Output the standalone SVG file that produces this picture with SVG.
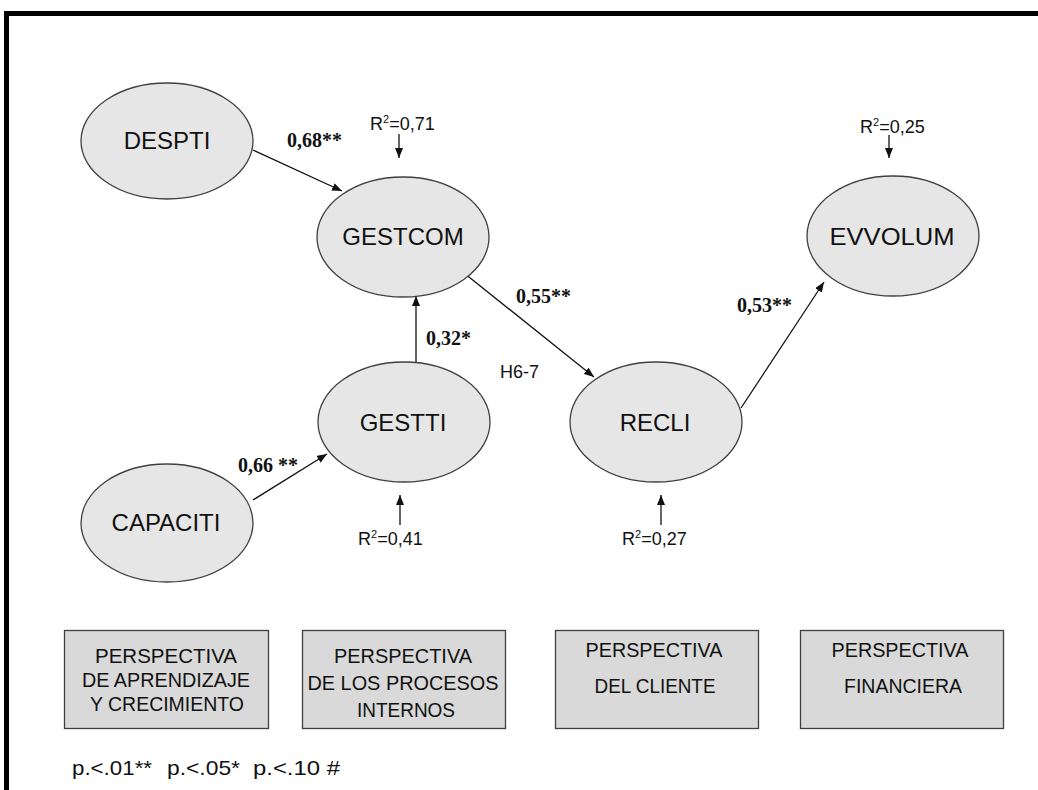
<svg xmlns="http://www.w3.org/2000/svg" width="1038" height="790" viewBox="0 0 1038 790">
<style>
.node ellipse{fill:#e6e6e6;stroke:#404040;stroke-width:1.3}
.lbl{font-family:"Liberation Sans",Arial,sans-serif;font-size:24px;fill:#111;text-anchor:middle}
.coef{font-family:"Liberation Serif","Times New Roman",serif;font-size:20px;font-weight:bold;fill:#111}
.r2{font-family:"Liberation Sans",Arial,sans-serif;font-size:18px;fill:#111}
.box rect{fill:#d9d9d9;stroke:#404040;stroke-width:1.3}
.bt{font-family:"Liberation Sans",Arial,sans-serif;font-size:19.5px;fill:#111;text-anchor:middle}
.conn line{stroke:#111;stroke-width:1.3;marker-end:url(#ah)}
</style>
<defs>
<marker id="ah" viewBox="0 0 10 8" refX="10" refY="4" markerWidth="10" markerHeight="8" markerUnits="userSpaceOnUse" orient="auto">
<path d="M0,0 L10,4 L0,8 Z" fill="#111"/>
</marker>
</defs>
<rect width="1038" height="790" fill="#fff"/>
<path d="M6.5,790 V13.5 H1038" fill="none" stroke="#000" stroke-width="5"/>

<g class="conn">
<line x1="253" y1="150" x2="342" y2="191"/>
<line x1="416" y1="362" x2="416" y2="296"/>
<line x1="253" y1="500" x2="327" y2="454"/>
<line x1="464" y1="273" x2="594" y2="377"/>
<line x1="741" y1="408" x2="824" y2="282"/>
<line x1="399" y1="134" x2="399" y2="158"/>
<line x1="889" y1="135" x2="889" y2="158"/>
<line x1="400" y1="525" x2="400" y2="495"/>
<line x1="661" y1="525" x2="661" y2="495"/>
</g>

<g id="despti" class="node"><ellipse cx="167" cy="141" rx="86" ry="58"/><text class="lbl" x="167" y="149">DESPTI</text></g>
<g id="gestcom" class="node"><ellipse cx="403" cy="237" rx="86" ry="60"/><text class="lbl" x="403" y="245">GESTCOM</text></g>
<g id="evvolum" class="node"><ellipse cx="893" cy="236" rx="86" ry="60"/><text class="lbl" x="892" y="245" textLength="125" lengthAdjust="spacingAndGlyphs">EVVOLUM</text></g>
<g id="gestti" class="node"><ellipse cx="404" cy="422" rx="86" ry="60"/><text class="lbl" x="403" y="431">GESTTI</text></g>
<g id="recli" class="node"><ellipse cx="656" cy="422" rx="86" ry="60"/><text class="lbl" x="655" y="431">RECLI</text></g>
<g id="capaciti" class="node"><ellipse cx="167" cy="523" rx="86" ry="59"/><text class="lbl" x="166" y="531">CAPACITI</text></g>

<g id="coefs">
<text class="coef" x="287" y="147">0,68**</text>
<text class="coef" x="426" y="345">0,32*</text>
<text class="coef" x="238" y="472">0,66 **</text>
<text class="coef" x="516" y="303">0,55**</text>
<text class="coef" x="737" y="312">0,53**</text>
</g>
<g id="r2">
<text class="r2" x="370" y="130">R<tspan font-size="11" dy="-7">2</tspan><tspan dy="7">=0,71</tspan></text>
<text class="r2" x="860" y="133">R<tspan font-size="11" dy="-7">2</tspan><tspan dy="7">=0,25</tspan></text>
<text class="r2" x="358" y="545">R<tspan font-size="11" dy="-7">2</tspan><tspan dy="7">=0,41</tspan></text>
<text class="r2" x="622" y="545">R<tspan font-size="11" dy="-7">2</tspan><tspan dy="7">=0,27</tspan></text>
<text class="r2" x="500" y="378">H6-7</text>
</g>

<g id="box1" class="box"><rect x="64.5" y="630.5" width="204" height="98"/>
<text class="bt" x="166" y="663" textLength="142" lengthAdjust="spacingAndGlyphs">PERSPECTIVA</text>
<text class="bt" x="166" y="687" textLength="168" lengthAdjust="spacingAndGlyphs">DE APRENDIZAJE</text>
<text class="bt" x="167" y="711" textLength="154" lengthAdjust="spacingAndGlyphs">Y CRECIMIENTO</text></g>
<g id="box2" class="box"><rect x="302.5" y="630.5" width="203" height="98"/>
<text class="bt" x="403" y="663" textLength="138" lengthAdjust="spacingAndGlyphs">PERSPECTIVA</text>
<text class="bt" x="403" y="690" textLength="191" lengthAdjust="spacingAndGlyphs">DE LOS PROCESOS</text>
<text class="bt" x="406" y="717" textLength="98" lengthAdjust="spacingAndGlyphs">INTERNOS</text></g>
<g id="box3" class="box"><rect x="555.5" y="630.5" width="203" height="98"/>
<text class="bt" x="654" y="657" textLength="137" lengthAdjust="spacingAndGlyphs">PERSPECTIVA</text>
<text class="bt" x="655" y="693" textLength="121" lengthAdjust="spacingAndGlyphs">DEL CLIENTE</text></g>
<g id="box4" class="box"><rect x="800.5" y="630.5" width="203" height="98"/>
<text class="bt" x="900" y="657" textLength="137" lengthAdjust="spacingAndGlyphs">PERSPECTIVA</text>
<text class="bt" x="903" y="693" textLength="118" lengthAdjust="spacingAndGlyphs">FINANCIERA</text></g>

<g id="legend" font-family="'Liberation Sans',Arial,sans-serif" font-size="21" fill="#111">
<text x="72" y="775" textLength="80" lengthAdjust="spacingAndGlyphs">p.&lt;.01**</text>
<text x="167" y="775" textLength="73" lengthAdjust="spacingAndGlyphs">p.&lt;.05*</text>
<text x="253" y="775" textLength="87" lengthAdjust="spacingAndGlyphs">p.&lt;.10 #</text>
</g>
</svg>
